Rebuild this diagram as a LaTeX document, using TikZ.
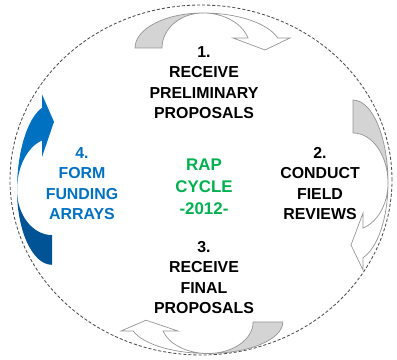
\documentclass[tikz,border=0pt]{standalone}
\usepackage{fontspec}
\setmainfont{Liberation Sans}
\usetikzlibrary{positioning}
\definecolor{rapgreen}{RGB}{0,176,80}
\definecolor{rapblue}{RGB}{0,112,192}
\definecolor{backblue}{RGB}{0,84,150}
\definecolor{edgegray}{RGB}{150,150,150}
\definecolor{backgray}{RGB}{212,212,212}
\tikzset{
  steptext/.style={font=\bfseries\fontsize{11.3}{14.4}\selectfont, align=center, inner sep=0pt},
  backgrey/.style={fill=backgray, draw=edgegray, line width=0.5pt},
  frontgrey/.style={fill=white, draw=edgegray, line width=0.5pt},
}
% the two halves of a twisted arrow, apex at (0,35)
\newcommand{\backhalf}[1]{\path[#1] (-68,0) arc[start angle=180,end angle=90,x radius=68,y radius=35] arc[start angle=90,end angle=180,x radius=41,y radius=35] -- cycle;}
\newcommand{\fronthalf}[1]{\path[#1] (0,35) arc[start angle=90,end angle=16.6,x radius=78,y radius=35] -- (87,10) -- (62,-2) -- (30,10) -- (45,10) arc[start angle=16.6,end angle=90,x radius=47,y radius=35] -- cycle;}
\newcommand{\twistarrow}[6]{%
  \begin{scope}[shift={#1},#2]
    \begin{scope}[xscale=#3] \backhalf{#5} \end{scope}
    \begin{scope}[xscale=#4] \fronthalf{#6} \end{scope}
  \end{scope}}
\begin{document}
\begin{tikzpicture}[x=0.25mm,y=0.25mm]
\useasboundingbox (0,0) rectangle (397,360);
\draw[gray!60!black, line width=0.6pt, dash pattern=on 2.2pt off 1.4pt] (201,180) ellipse[x radius=191, y radius=175];
% arrows
\twistarrow{(203,312)}{rotate=0}{1}{1}{backgrey}{frontgrey}
\twistarrow{(353,177)}{rotate=-90}{1.22}{1}{backgrey}{frontgrey}
\twistarrow{(208,38)}{rotate=180,yscale=0.9}{1.1}{1}{backgrey}{frontgrey}
\twistarrow{(52,170)}{rotate=90}{1.1}{1.1}{fill=backblue}{fill=rapblue}
% texts
\node[steptext] (receive) at (204,277.5) {1.\\RECEIVE\\PRELIMINARY\\PROPOSALS};
\node[steptext] (review) at (320,176.5) {2.\\CONDUCT\\FIELD\\REVIEWS};
\node[steptext] (final) at (204,82.5) {3.\\RECEIVE\\FINAL\\PROPOSALS};
\node[steptext, text=rapblue] (funding) at (82,176.5) {4.\\FORM\\FUNDING\\ARRAYS};
\node[steptext, text=rapgreen, font=\bfseries\fontsize{12}{15.6}\selectfont] (cycle) at (204,173) {RAP\\CYCLE\\-2012-};
\end{tikzpicture}
\end{document}
